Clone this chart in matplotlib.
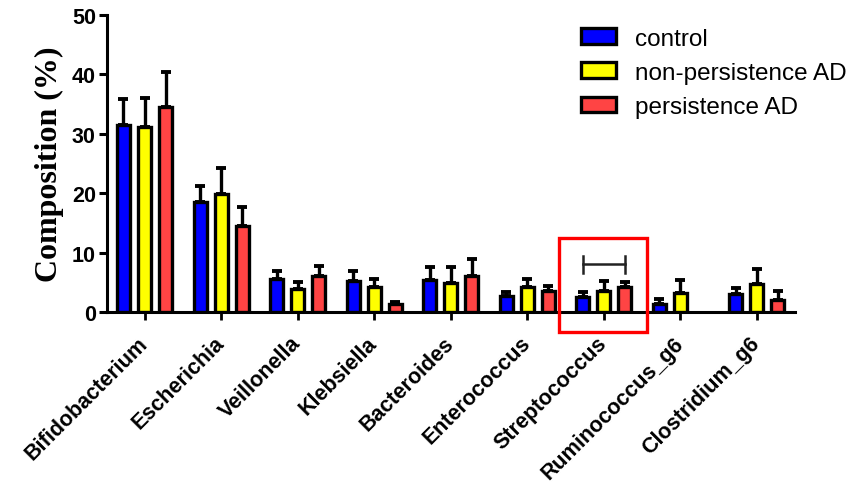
import numpy as np
import matplotlib
matplotlib.use("Agg")
import matplotlib.pyplot as plt
from matplotlib.patches import Rectangle, Patch

categories = ["Bifidobacterium", "Escherichia", "Veillonella", "Klebsiella",
              "Bacteroides", "Enterococcus", "Streptococcus",
              "Ruminococcus_g6", "Clostridium_g6"]
series_names = ["control", "non-persistence AD", "persistence AD"]
control_mean = [31.5, 18.5, 5.5, 5.2, 5.4, 2.7, 2.6, 1.3, 3.0]
control_sd = [4.4, 2.8, 1.4, 1.7, 2.2, 0.6, 0.8, 0.9, 1.0]
nonpers_mean = [31.1, 19.9, 3.8, 4.2, 4.85, 4.2, 3.55, 3.2, 4.7]
nonpers_sd = [4.9, 4.3, 1.3, 1.3, 2.65, 1.4, 1.65, 2.2, 2.6]
pers_mean = [34.5, 14.5, 6.1, 1.3, 6.1, 3.55, 4.2, np.nan, 2.0]
pers_sd = [5.9, 3.2, 1.7, 0.4, 2.8, 0.9, 0.9, np.nan, 1.6]
yticks = [0, 10, 20, 30, 40, 50]
sig_group = 6          # Streptococcus
sig_level = 8.0        # bracket height

colors = ["#0000FF", "#FFFF00", "#FF4444"]
means = [control_mean, nonpers_mean, pers_mean]
sds = [control_sd, nonpers_sd, pers_sd]

fig = plt.figure(figsize=(8.68, 5.02), dpi=100)
ax = fig.add_axes([0.1233, 0.3765, 0.7927, 0.5915])

x = np.arange(len(categories))
offsets = [-0.275, 0.0, 0.275]
width = 0.17
lw = 2.4
for m, s, c, off, name in zip(means, sds, colors, offsets, series_names):
    m = np.array(m, dtype=float)
    s = np.array(s, dtype=float)
    ax.errorbar(x + off, m, yerr=[np.zeros_like(s), s], fmt="none",
                ecolor="black", elinewidth=2.4, capsize=3.4, capthick=2.8,
                zorder=2)
    ax.bar(x + off, m, width=width, color=c, edgecolor="black",
           linewidth=lw, zorder=3, label=name)

# significance bracket
xl = sig_group + offsets[0]
xr = sig_group + offsets[2]
ax.plot([xl, xr], [sig_level, sig_level], color="#222222", lw=1.8, zorder=4)
ax.plot([xl, xl], [sig_level - 1.4, sig_level + 1.4], color="#222222", lw=1.8, zorder=4)
ax.plot([xr, xr], [sig_level - 1.4, sig_level + 1.4], color="#222222", lw=1.8, zorder=4)

# highlight box
ax.add_patch(Rectangle((sig_group - 0.59, -3.3), 1.15, 15.8, fill=False,
                       edgecolor="#FF0000", lw=2.4, clip_on=False, zorder=5))

ax.set_xlim(-0.49, 8.5)
ax.set_ylim(0, 50)
ax.set_yticks(yticks)
ax.set_yticklabels([str(t) for t in yticks], fontsize=15.5, fontweight="bold",
                   family="Liberation Sans")
ax.set_xticks(x)
ax.set_xticklabels(categories, rotation=45, ha="right", va="center",
                   rotation_mode="anchor", fontsize=15.5, fontweight="bold",
                   family="Liberation Sans")
ax.tick_params(axis="y", length=6, width=2.2, pad=2)
ax.tick_params(axis="x", length=6, width=2.0, pad=14)
for sp in ["top", "right"]:
    ax.spines[sp].set_visible(False)
for sp in ["left", "bottom"]:
    ax.spines[sp].set_linewidth(2.2)

ax.set_ylabel("Composition (%)", fontsize=23, fontweight="bold",
              family="Liberation Serif", labelpad=6)

handles = [Patch(facecolor=c, edgecolor="black", linewidth=2.4) for c in colors]
leg = ax.legend(handles, series_names, loc="upper left",
                bbox_to_anchor=(0.675, 0.99), frameon=False,
                prop={"family": "Liberation Sans", "size": 17.5},
                handlelength=1.45, handleheight=0.62, handletextpad=0.75,
                labelspacing=0.5, borderaxespad=0.0)

fig.savefig("out.png", dpi=100)
